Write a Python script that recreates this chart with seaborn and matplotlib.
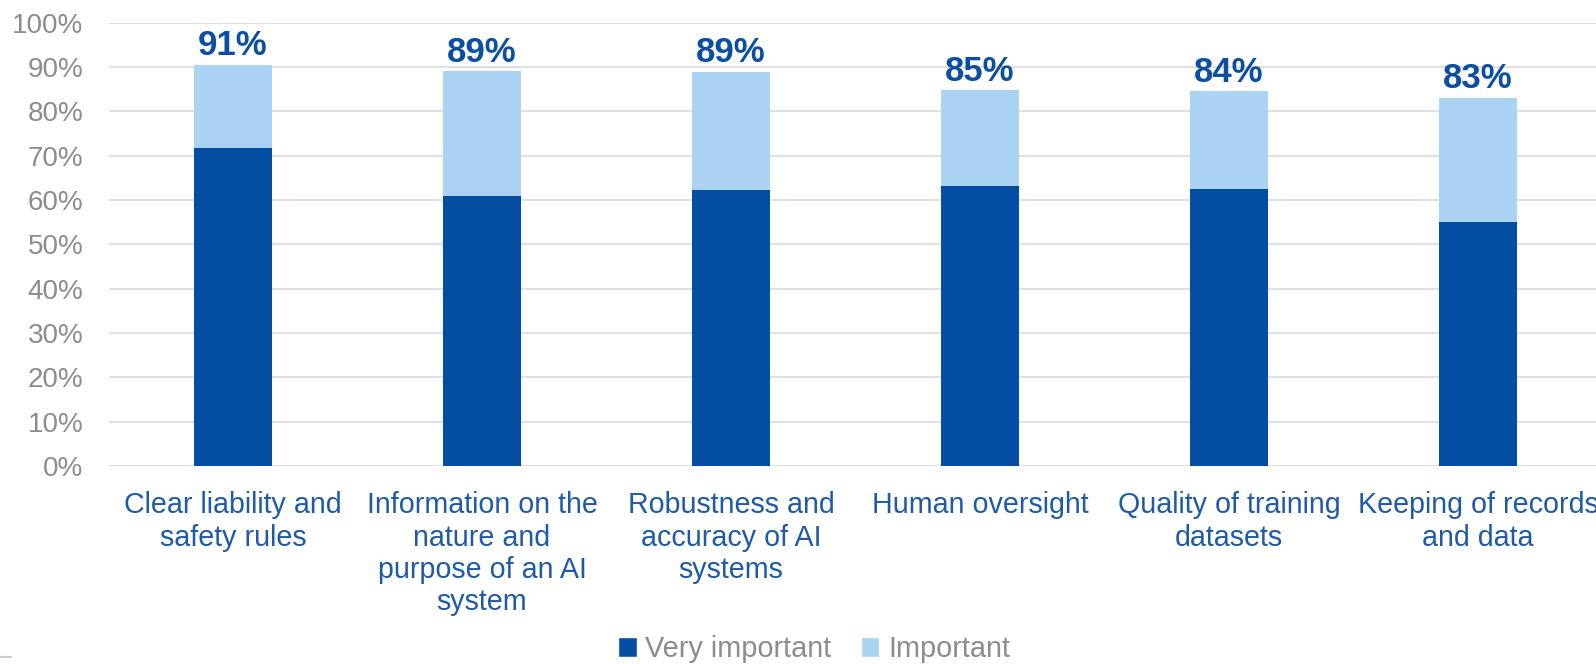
import matplotlib
matplotlib.use("Agg")
import matplotlib.pyplot as plt
import seaborn as sns
import pandas as pd
import numpy as np
from matplotlib.patches import Patch
from matplotlib.ticker import PercentFormatter

categories = [
    "Clear liability and\nsafety rules",
    "Information on the\nnature and\npurpose of an AI\nsystem",
    "Robustness and\naccuracy of AI\nsystems",
    "Human oversight",
    "Quality of training\ndatasets",
    "Keeping of records\nand data",
]
very_important = [71.8, 61.0, 62.2, 63.1, 62.4, 55.0]
important = [18.7, 28.0, 26.6, 21.6, 22.1, 28.1]
total_labels = ["91%", "89%", "89%", "85%", "84%", "83%"]
yticks = [0, 10, 20, 30, 40, 50, 60, 70, 80, 90, 100]

DARK = "#034EA2"
LIGHT = "#ABD3F3"
LABEL_BLUE = "#0B4EA2"
TICK_BLUE = "#1F5AA8"
GREY = "#8C8C8C"

sns.set_theme(style="white")
plt.rcParams["font.family"] = ["Liberation Sans", "DejaVu Sans"]

df = pd.DataFrame({
    "category": categories,
    "very": very_important,
    "total": np.array(very_important) + np.array(important),
})

fig = plt.figure(figsize=(15.96, 6.64), dpi=100)
ax = fig.add_axes([0.068, 0.298, 0.936, 0.668])

sns.barplot(data=df, x="category", y="total", color=LIGHT, width=0.313,
            saturation=1, ax=ax, zorder=3, linewidth=0)
sns.barplot(data=df, x="category", y="very", color=DARK, width=0.313,
            saturation=1, ax=ax, zorder=4, linewidth=0)

for i, (t, lab) in enumerate(zip(df["total"], total_labels)):
    ax.annotate(lab, (i, t), xytext=(0, 2), textcoords="offset points",
                ha="center", va="bottom", fontsize=25, fontweight="bold",
                color=LABEL_BLUE)

ax.set_ylim(0, 100)
ax.set_xlim(-0.5, 5.5)
ax.set_yticks(yticks)
ax.yaxis.set_major_formatter(PercentFormatter(decimals=0))
ax.grid(axis="y", color="#E0E0E0", linewidth=1.5, zorder=0)
ax.set_axisbelow(True)
for s in ax.spines.values():
    s.set_visible(False)
ax.set_xlabel("")
ax.set_ylabel("")
ax.tick_params(axis="y", labelsize=20, labelcolor=GREY, length=0, pad=18)
ax.tick_params(axis="x", labelsize=20.6, labelcolor=TICK_BLUE, length=0, pad=18)
for t in ax.get_xticklabels():
    t.set_linespacing(1.2)

handles = [Patch(facecolor=DARK, label="Very important"),
           Patch(facecolor=LIGHT, label="Important")]
leg = fig.legend(handles=handles, loc="lower center", bbox_to_anchor=(0.51, -0.038),
                 ncol=2, frameon=False, fontsize=20.8, handlelength=0.65,
                 handleheight=0.65, handletextpad=0.3, columnspacing=1.0)
for txt in leg.get_texts():
    txt.set_color(GREY)

fig.add_artist(plt.Line2D([0, 0.007], [0.011, 0.011], color="#CCCCCC",
                          linewidth=1.5, transform=fig.transFigure))

fig.savefig("out.png", dpi=100)
